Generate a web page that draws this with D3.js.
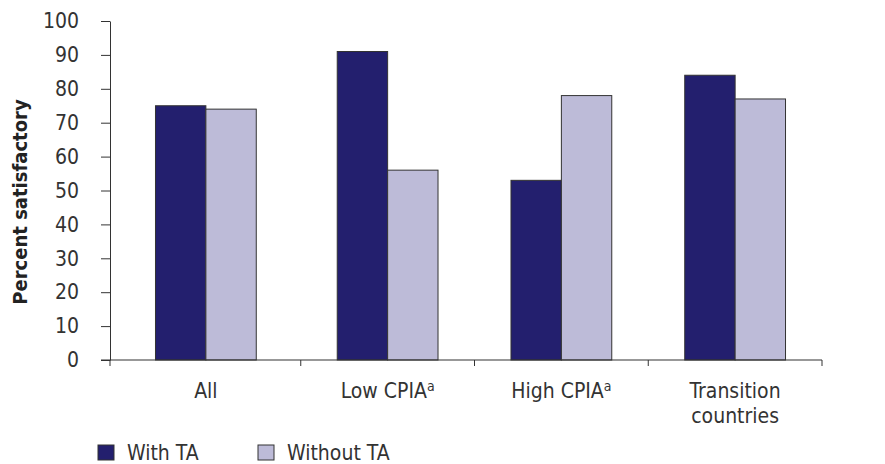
<!DOCTYPE html>
<html>
<head>
<meta charset="utf-8">
<script src="https://cdn.jsdelivr.net/npm/d3@7"></script>
<style>
  body { margin: 0; background: #fff; }
  svg text { font-family: "Liberation Sans Narrow", "DejaVu Sans Condensed", "Roboto Condensed", sans-serif; fill: #333; }
</style>
</head>
<body>
<script>
// data
var categories = ["All", "Low CPIA", "High CPIA", "Transition countries"];
var series = ["With TA", "Without TA"];
var withTA = [75, 91, 53, 84];
var withoutTA = [74, 56, 78, 77];
var yTicks = [0, 10, 20, 30, 40, 50, 60, 70, 80, 90, 100];
var colors = ["#231f6e", "#bdbbd8"];

var width = 885, height = 464;
var svg = d3.select("body").append("svg")
  .attr("width", width)
  .attr("height", height);

var axisX = 110, plotTop = 21, plotBottom = 360, plotRight = 822;

var y = d3.scaleLinear().domain([0, 100]).range([plotBottom, plotTop]);
var x = d3.scaleBand().domain(categories).range([127, plotRight]).padding(0);
var x1 = d3.scaleBand().domain(series)
  .range([x.bandwidth() * 0.21, x.bandwidth() * 0.79]);

// bars
var groups = svg.selectAll("g.grp")
  .data(categories)
  .enter().append("g")
  .attr("class", "grp")
  .attr("transform", function (d, i) {
    // first group sits a bit left in the original
    return "translate(" + (x(d) - (i === 0 ? 8 : 0)) + ",0)";
  });

groups.selectAll("rect")
  .data(function (d, i) {
    return [{ s: series[0], v: withTA[i] }, { s: series[1], v: withoutTA[i] }];
  })
  .enter().append("rect")
  .attr("x", function (d) { return x1(d.s); })
  .attr("y", function (d) { return y(d.v); })
  .attr("width", x1.bandwidth())
  .attr("height", function (d) { return plotBottom - y(d.v); })
  .style("fill", function (d, i) { return colors[i]; })
  .style("stroke", "#333")
  .style("stroke-width", 1);

// y axis
var yAxis = svg.append("g")
  .attr("transform", "translate(" + axisX + ",0)")
  .call(d3.axisLeft(y).tickValues(yTicks).tickSize(9).tickPadding(22).tickSizeOuter(0));
yAxis.select(".domain").attr("stroke", "#333");
yAxis.selectAll(".tick line").attr("stroke", "#333");
yAxis.selectAll(".tick text")
  .style("font-size", "21px")
  .attr("fill", "#333");

// x axis line and ticks
svg.append("line")
  .attr("x1", axisX - 9).attr("x2", plotRight)
  .attr("y1", plotBottom).attr("y2", plotBottom)
  .attr("stroke", "#333").attr("stroke-width", 1.2);

var tickXs = [axisX].concat(categories.slice(1).map(function (c) { return x(c); })).concat([plotRight]);
svg.selectAll("line.xt")
  .data(tickXs)
  .enter().append("line")
  .attr("class", "xt")
  .attr("x1", function (d) { return d; }).attr("x2", function (d) { return d; })
  .attr("y1", plotBottom).attr("y2", plotBottom + 6)
  .attr("stroke", "#333");

// category labels
var labels = svg.selectAll("text.cat")
  .data(categories)
  .enter().append("text")
  .attr("class", "cat")
  .attr("text-anchor", "middle")
  .attr("x", function (d, i) { return x(d) + x.bandwidth() / 2 - (i === 0 ? 8 : 0); })
  .attr("y", 398)
  .style("font-size", "21px");

labels.each(function (d) {
  var t = d3.select(this);
  if (d === "Transition countries") {
    t.append("tspan").attr("x", t.attr("x")).attr("dy", 0).text("Transition");
    t.append("tspan").attr("x", t.attr("x")).attr("dy", 25).text("countries");
  } else if (d.indexOf("CPIA") >= 0) {
    t.append("tspan").text(d);
    t.append("tspan").attr("dy", -7).style("font-size", "14px").text("a");
  } else {
    t.text(d);
  }
});

// y title
svg.append("text")
  .attr("transform", "translate(27,202) rotate(-90)")
  .attr("text-anchor", "middle")
  .style("font-size", "20px")
  .style("font-weight", "bold")
  .style("fill", "#222")
  .text("Percent satisfactory");

// legend
var legendX = [98, 258];
var leg = svg.selectAll("g.leg")
  .data(series)
  .enter().append("g")
  .attr("class", "leg")
  .attr("transform", function (d, i) { return "translate(" + legendX[i] + ",445)"; });
leg.append("rect")
  .attr("width", 16).attr("height", 15)
  .style("fill", function (d, i) { return colors[i]; })
  .style("stroke", "#333");
leg.append("text")
  .attr("x", 29).attr("y", 15)
  .style("font-size", "21px")
  .text(function (d) { return d; });
</script>
</body>
</html>
